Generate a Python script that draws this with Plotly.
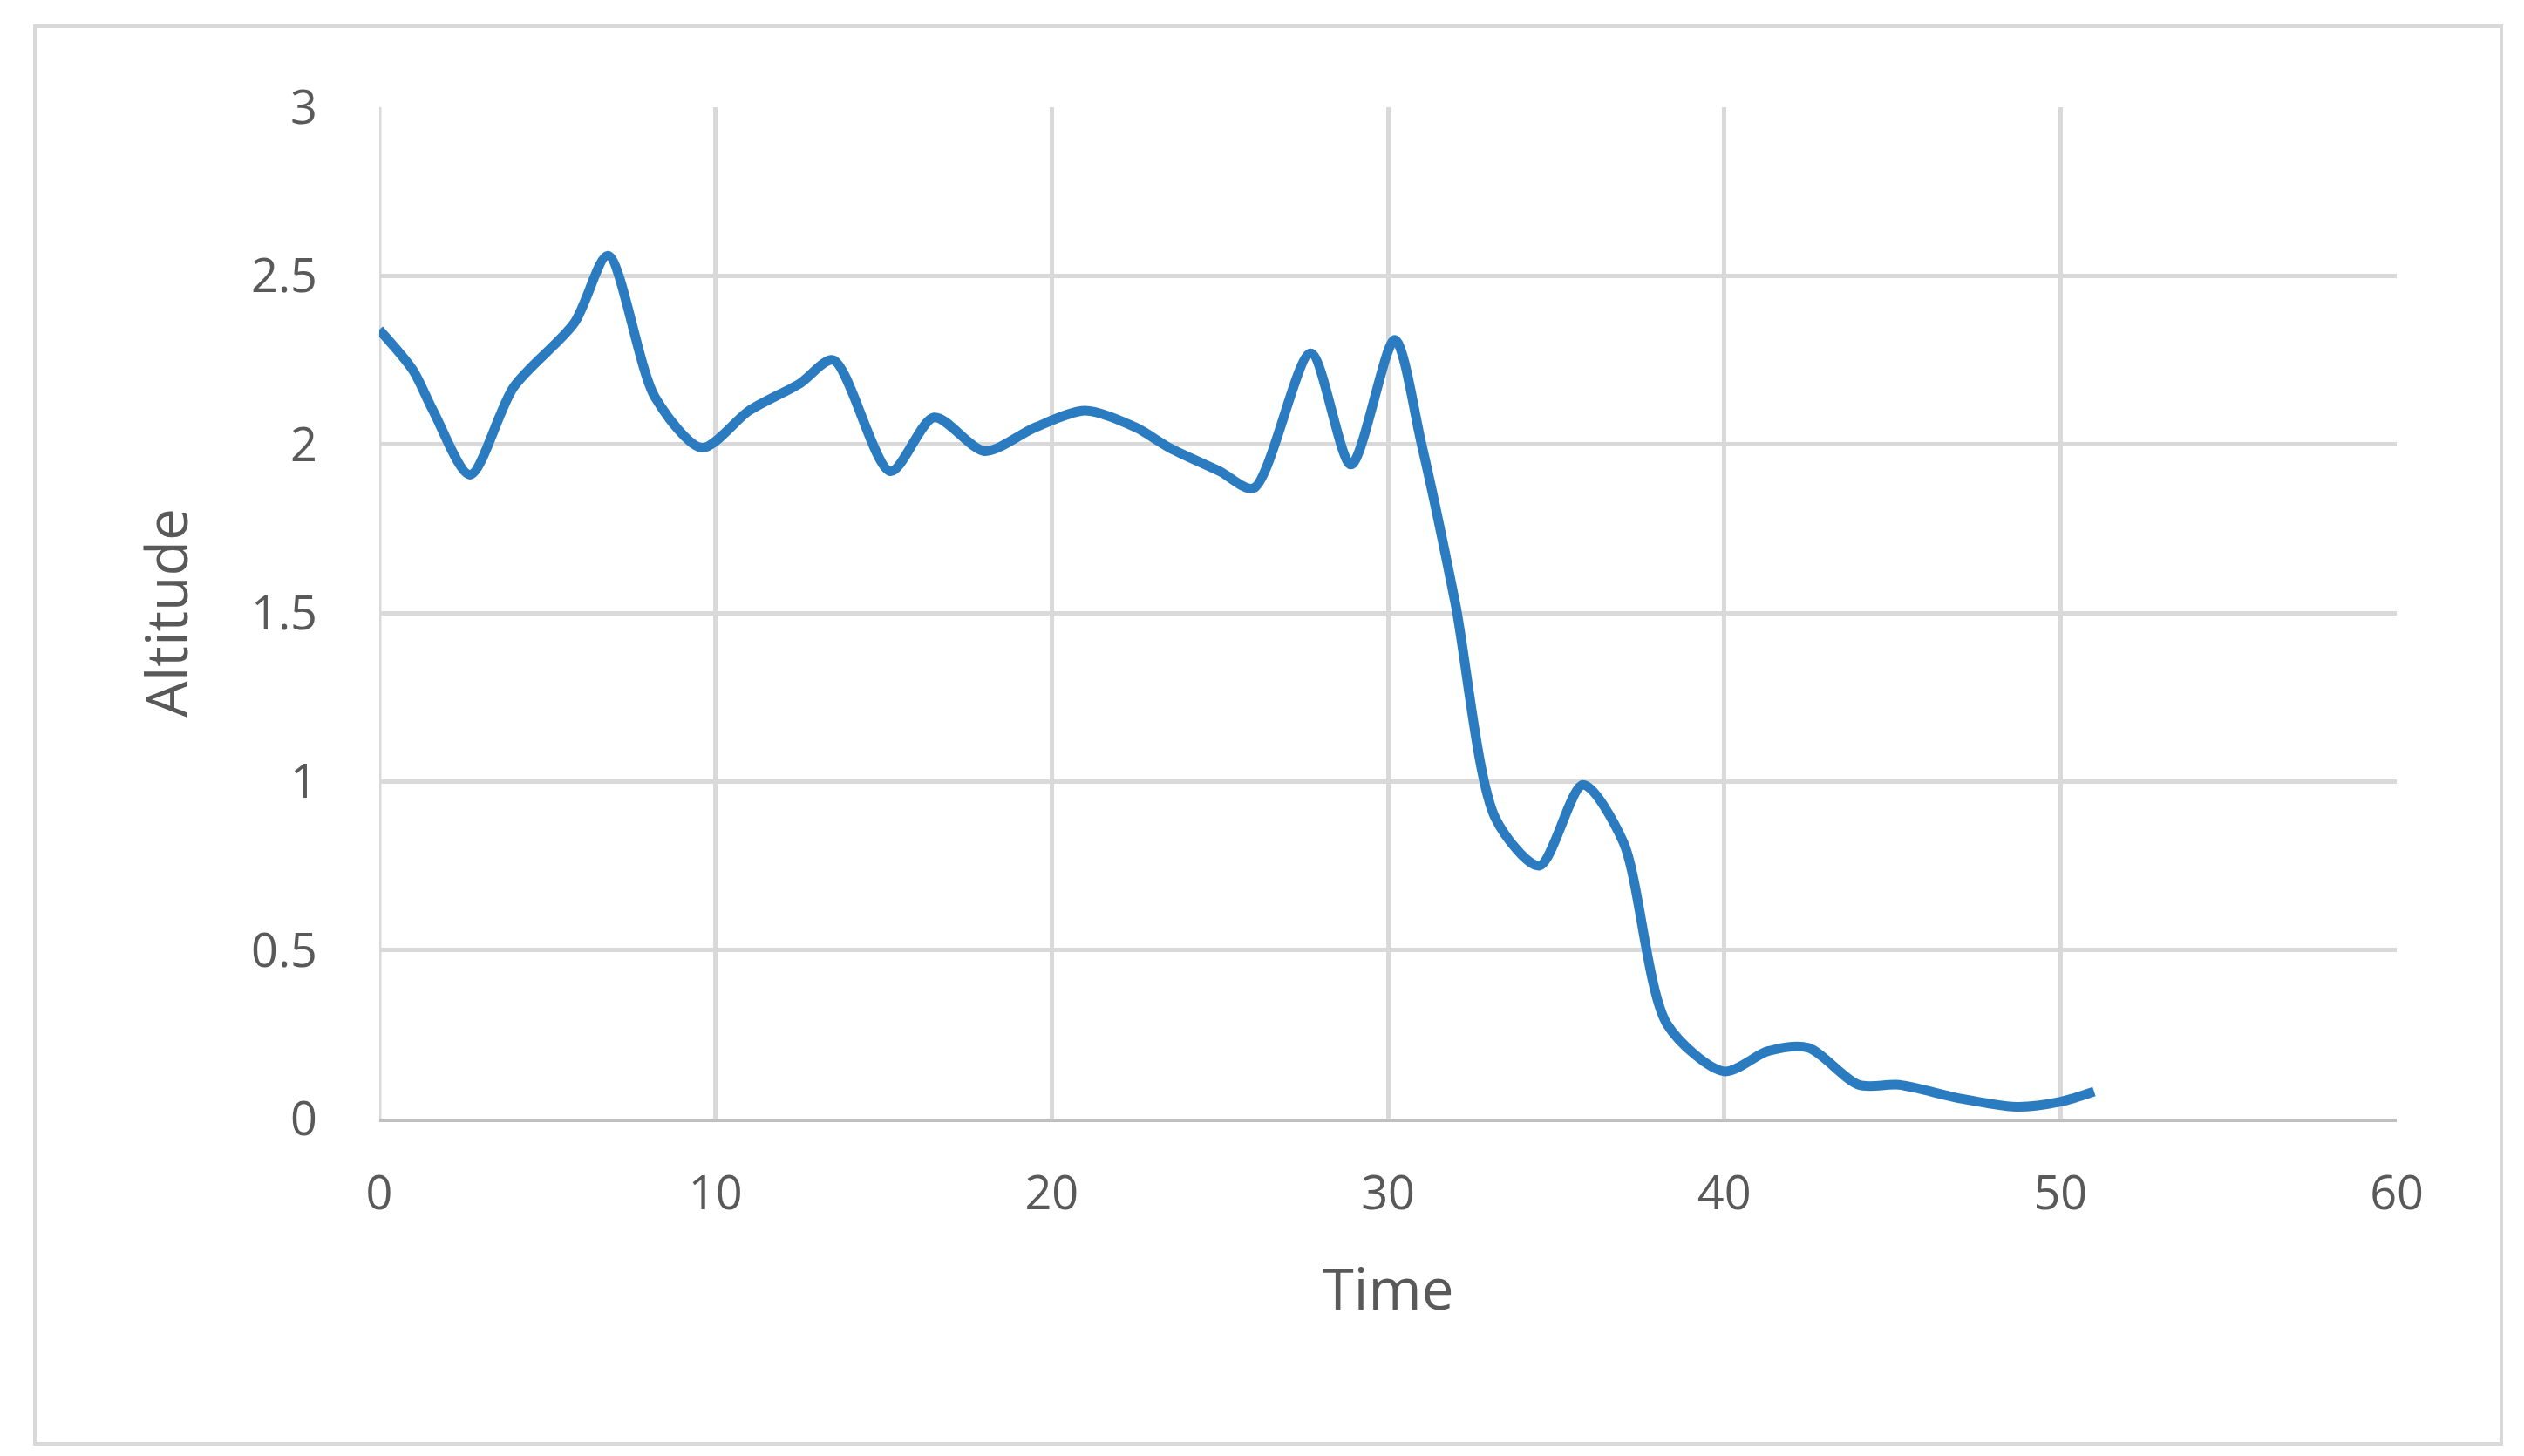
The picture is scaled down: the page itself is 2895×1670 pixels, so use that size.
import plotly.graph_objects as go

time = [0, 1, 1.6, 2.7, 4, 5.8, 6.8, 8.2, 9.6, 11, 12.5, 13.5, 15.2, 16.5, 18, 19.5, 21, 22.5, 23.5, 25, 26,
        27.7, 28.9, 30.2, 31, 32, 33.2, 34.5, 35.8, 37, 38.3, 40, 41.3, 42.5, 44, 45.2, 47, 48.7, 50, 51]
altitude = [2.34, 2.22, 2.1, 1.91, 2.17, 2.36, 2.56, 2.14, 1.99, 2.1, 2.18, 2.25, 1.92, 2.08, 1.98, 2.05, 2.1,
            2.05, 1.99, 1.92, 1.87, 2.27, 1.94, 2.31, 2.0, 1.53, 0.89, 0.75, 0.99, 0.82, 0.28, 0.14, 0.2, 0.21,
            0.1, 0.1, 0.06, 0.035, 0.05, 0.08]

fig = go.Figure(go.Scatter(x=time, y=altitude, mode="lines",
                           line=dict(color="#2B7BC0", width=11, shape="spline", smoothing=0.8)))

W, H = 2895, 1670
L, R, T, B = 427, 154, 115, 395
pw, ph = W - L - R, H - T - B
font = dict(family="Open Sans, Lato, sans-serif", color="#595959")
fig.update_layout(
    width=W, height=H, margin=dict(l=L, r=R, t=T, b=B),
    paper_bgcolor="white", plot_bgcolor="white", showlegend=False,
    font=font,
    xaxis=dict(range=[0, 60], dtick=10, showgrid=True, gridcolor="#D9D9D9", gridwidth=5,
               showline=True, linecolor="#BFBFBF", linewidth=4, zeroline=False,
               tickfont=dict(size=54), ticklabelstandoff=35,
               title=dict(text="Time", font=dict(size=66), standoff=55)),
    yaxis=dict(range=[0, 3], dtick=0.5, showgrid=True, gridcolor="#D9D9D9", gridwidth=5,
               zeroline=False, tickfont=dict(size=54), ticklabelstandoff=70,
               title=dict(text="Altitude", font=dict(size=66), standoff=50)),
)
fig.add_shape(type="line", xref="x", yref="paper", x0=0, x1=0, y0=0, y1=1,
              line=dict(color="#D9D9D9", width=5), layer="below")
fig.add_shape(type="rect", xref="paper", yref="paper",
              x0=(32 - L) / pw, x1=(2861 - L) / pw, y0=(H - B - 1648) / ph, y1=(H - B - 22) / ph,
              line=dict(color="#D9D9D9", width=4))
fig.write_html("out.html")
